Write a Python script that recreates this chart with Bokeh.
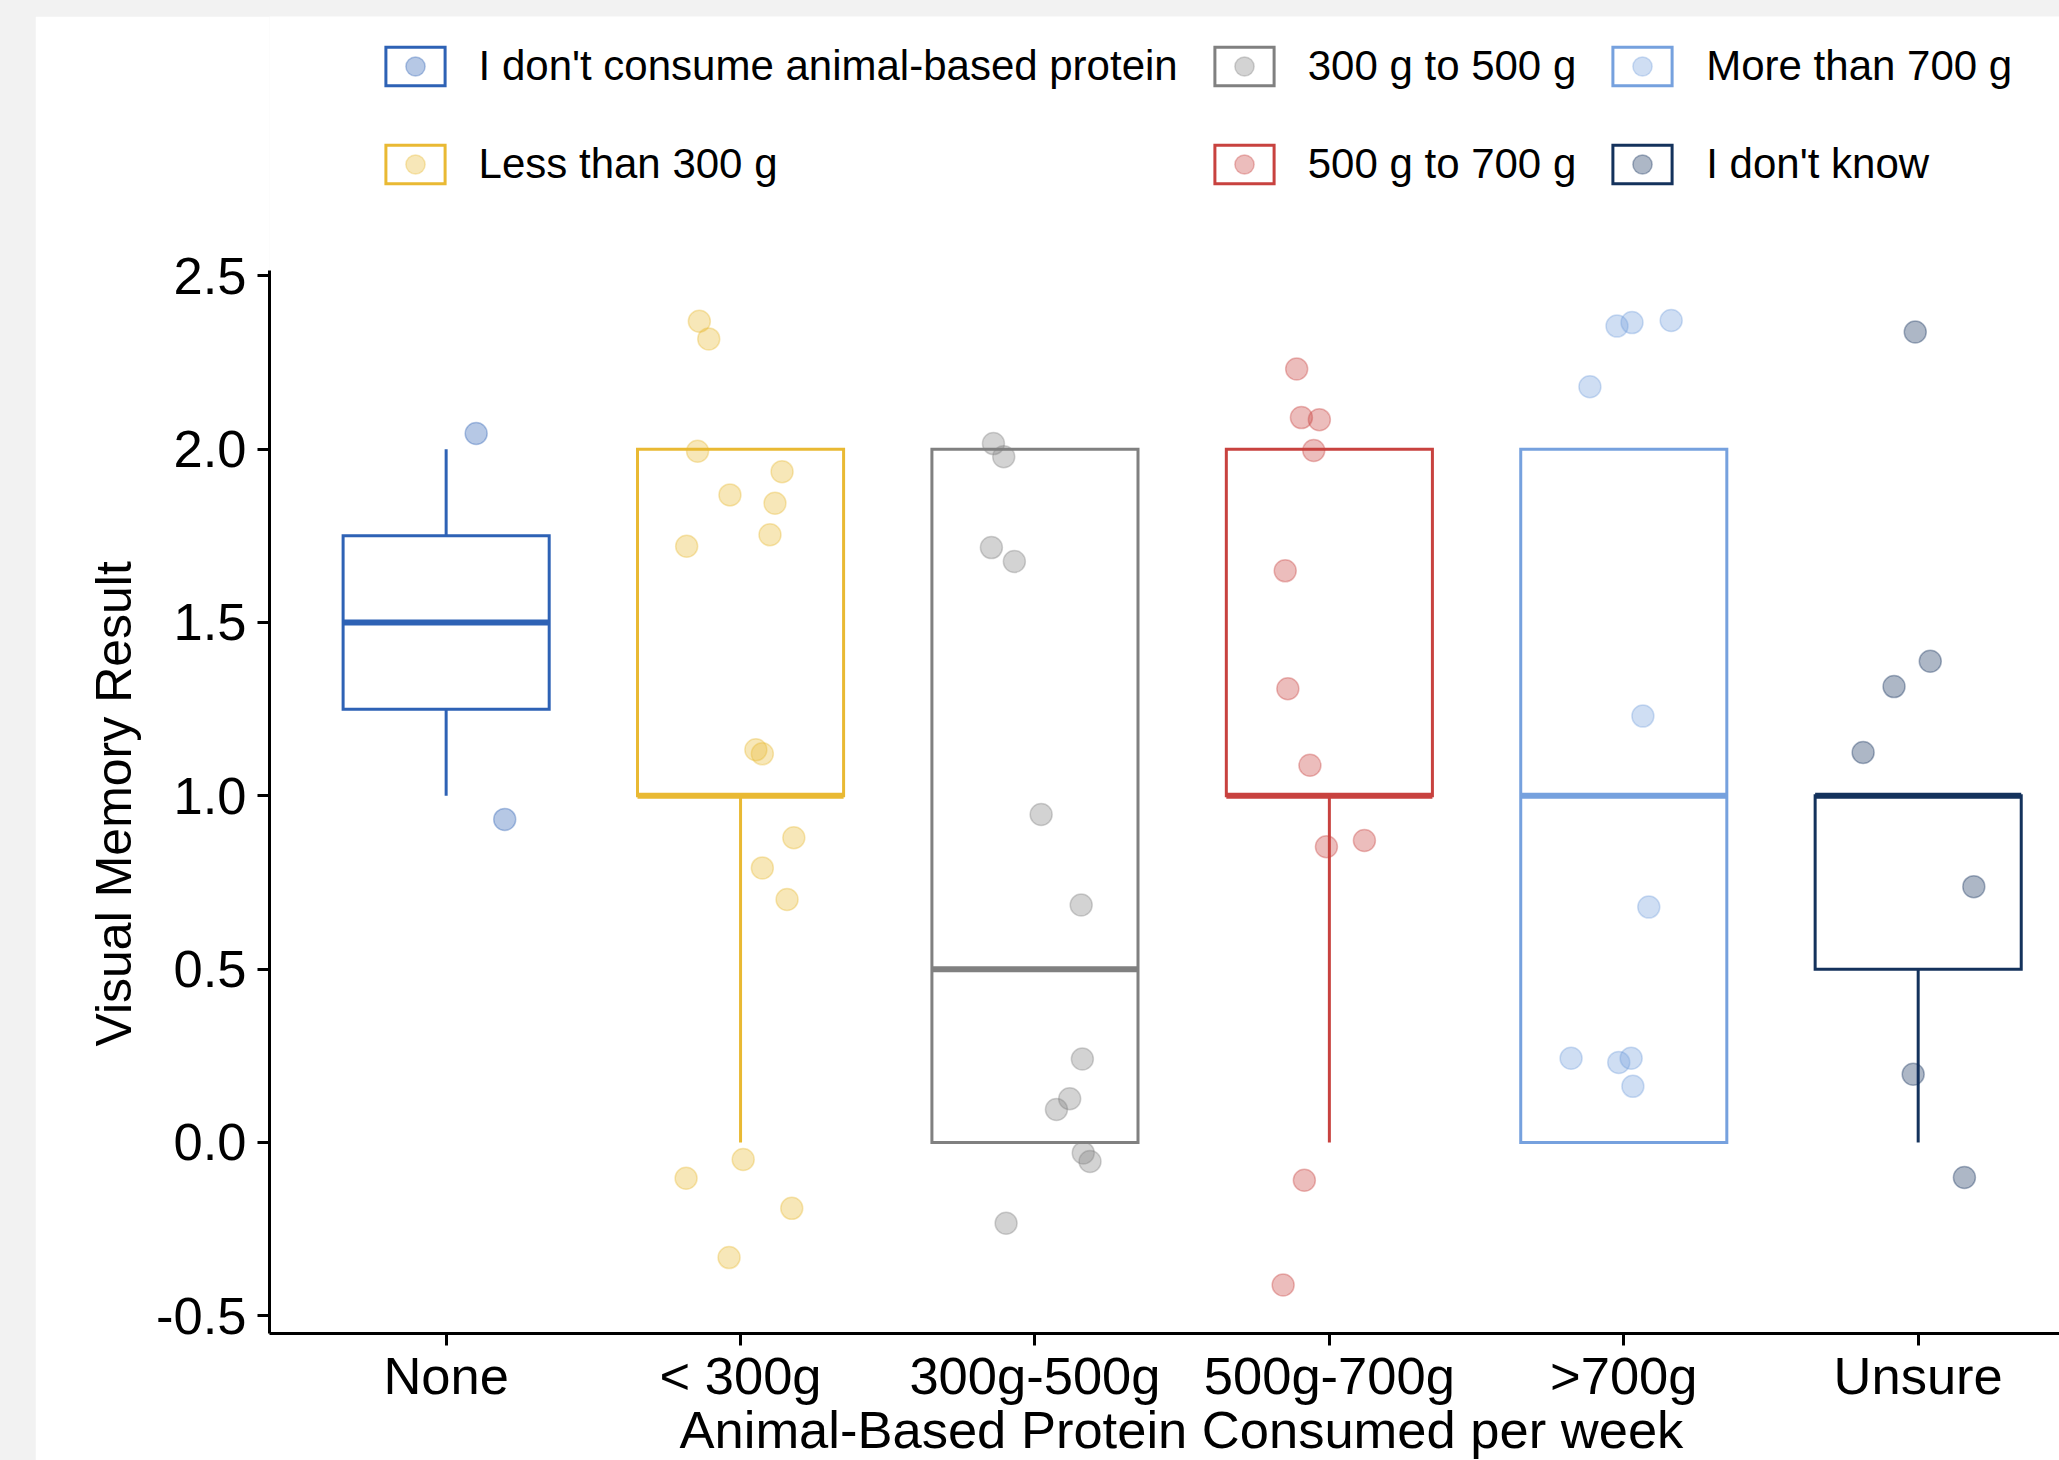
import numpy as np
from bokeh.plotting import figure
from bokeh.models import (Range1d, FixedTicker, NumeralTickFormatter, Legend, LegendItem,
                          ColumnDataSource, Title)
from bokeh.layouts import column
from bokeh.embed import file_html
from bokeh.resources import INLINE

# ---------------- data ----------------
categories = ["None", "< 300g", "300g-500g", "500g-700g", ">700g", "Unsure"]
legend_labels = ["I don't consume animal-based protein", "Less than 300 g", "300 g to 500 g",
                 "500 g to 700 g", "More than 700 g", "I don't know"]
colors = ["#2E62B5", "#E9B933", "#808080", "#C8423F", "#76A1DE", "#14325C"]

box_lower = [1.0, 0.0, 0.0, 0.0, 0.0, 0.0]
box_q1 = [1.25, 1.0, 0.0, 1.0, 0.0, 0.5]
box_median = [1.5, 1.0, 0.5, 1.0, 1.0, 1.0]
box_q3 = [1.75, 2.0, 2.0, 2.0, 2.0, 1.0]
box_upper = [2.0, 2.0, 2.0, 2.0, 2.0, 1.0]

# jittered points: horizontal jitter (category units) and value, per group
none_dx = [0.102, 0.199]
none_y = [2.045, 0.932]
lt300_dx = [-0.140, -0.108, -0.146, 0.141, -0.036, 0.117, -0.183, 0.100, 0.052, 0.074,
            0.181, 0.074, 0.158, 0.009, -0.185, 0.174, -0.039]
lt300_y = [2.369, 2.318, 1.994, 1.935, 1.868, 1.844, 1.720, 1.753, 1.133, 1.121,
           0.879, 0.792, 0.701, -0.049, -0.103, -0.190, -0.332]
g300_500_dx = [-0.141, -0.106, -0.148, -0.070, 0.021, 0.157, 0.161, 0.118, 0.073, 0.164,
               0.187, -0.098]
g300_500_y = [2.016, 1.978, 1.716, 1.676, 0.946, 0.685, 0.241, 0.126, 0.095, -0.030,
              -0.055, -0.233]
g500_700_dx = [-0.111, -0.095, -0.034, -0.053, -0.150, -0.141, -0.066, -0.010, 0.119,
               -0.085, -0.157]
g500_700_y = [2.231, 2.091, 2.085, 1.996, 1.649, 1.309, 1.088, 0.853, 0.871, -0.109, -0.411]
gt700_dx = [-0.023, 0.028, 0.161, -0.115, 0.065, 0.085, -0.179, -0.017, 0.025, 0.031]
gt700_y = [2.355, 2.365, 2.371, 2.180, 1.230, 0.679, 0.243, 0.231, 0.243, 0.162]
unsure_dx = [-0.010, 0.041, -0.082, -0.187, 0.189, -0.017, 0.157]
unsure_y = [2.338, 1.388, 1.315, 1.125, 0.738, 0.197, -0.101]

y_ticks = [-0.5, 0.0, 0.5, 1.0, 1.5, 2.0, 2.5]
y_axis_bounds = (-0.551, 2.515)
x_title = "Animal-Based Protein Consumed per week"
y_title = "Visual Memory Result"

groups_dx = [none_dx, lt300_dx, g300_500_dx, g500_700_dx, gt700_dx, unsure_dx]
groups_y = [none_y, lt300_y, g300_500_y, g500_700_y, gt700_y, unsure_y]

pos = np.arange(1, len(categories) + 1, dtype=float)
box_width = 0.7
FONT = "Liberation Sans"

# ---------------- figure ----------------
# the frame also holds the legend area at the top; the y axis line is limited by bounds
p = figure(width=2024, height=1444, x_range=Range1d(0.4, 6.48), y_range=Range1d(-0.551, 3.248),
           output_backend="svg", toolbar_location=None,
           min_border_left=234, min_border_right=0, min_border_top=0, min_border_bottom=127)
p.xgrid.visible = False
p.ygrid.visible = False
p.outline_line_color = None
p.background_fill_color = "white"
p.border_fill_color = "white"
p.margin = (16, 0, 0, 35)

legend_boxes = []
for i in range(len(categories)):
    c = colors[i]
    src = ColumnDataSource(dict(x=[pos[i]], lower=[box_lower[i]], q1=[box_q1[i]],
                                med=[box_median[i]], q3=[box_q3[i]], upper=[box_upper[i]],
                                x0=[pos[i] - box_width / 2], x1=[pos[i] + box_width / 2]))
    p.segment(x0="x", y0="q3", x1="x", y1="upper", source=src, line_color=c, line_width=3)
    p.segment(x0="x", y0="q1", x1="x", y1="lower", source=src, line_color=c, line_width=3)
    bx = p.vbar(x="x", width=box_width, bottom="q1", top="q3", source=src,
                fill_color="white", line_color=c, line_width=3, line_join="miter")
    p.segment(x0="x0", y0="med", x1="x1", y1="med", source=src, line_color=c, line_width=6)
    legend_boxes.append(bx)

pt_renderers = []
for i in range(len(categories)):
    c = colors[i]
    psrc = ColumnDataSource(dict(x=[pos[i] + d for d in groups_dx[i]], y=groups_y[i]))
    r = p.scatter(x="x", y="y", source=psrc, size=22, fill_color=c, line_color=c,
                  fill_alpha=0.35, line_alpha=0.35, line_width=1.5)
    pt_renderers.append(r)

# axes
p.xaxis.ticker = FixedTicker(ticks=list(pos))
p.xaxis.major_label_overrides = {float(v): c for v, c in zip(pos, categories)}
p.yaxis.ticker = FixedTicker(ticks=y_ticks)
p.yaxis.formatter = NumeralTickFormatter(format="0.0")
p.yaxis.bounds = y_axis_bounds
for ax in (p.xaxis[0], p.yaxis[0]):
    ax.axis_line_width = 3
    ax.axis_line_color = "black"
    ax.major_tick_line_width = 3
    ax.major_tick_line_color = "black"
    ax.major_tick_out = 12
    ax.major_tick_in = 0
    ax.minor_tick_line_color = None
    ax.major_label_text_font = FONT
    ax.major_label_text_font_size = "52.5px"
    ax.major_label_text_color = "black"
p.yaxis.major_label_standoff = 11
p.xaxis.major_label_standoff = 0

# axis titles (placed as in the original, where the panel runs past the right edge)
xtitle = Title(text=x_title, align="left", vertical_align="top", offset=410, standoff=-16,
               text_font=FONT, text_font_size="52.5px", text_font_style="normal",
               text_color="black")
p.add_layout(xtitle, "below")
ytitle = Title(text=y_title, align="left", offset=287, standoff=23,
               text_font=FONT, text_font_size="50px", text_font_style="normal",
               text_color="black")
p.add_layout(ytitle, "left")

# legend (inside the top part of the frame)
items = [LegendItem(label=legend_labels[i], renderers=[legend_boxes[i], pt_renderers[i]])
         for i in range(len(categories))]
legend = Legend(items=items, orientation="vertical", nrows=2, location=(108.6, 1134.9),
                glyph_width=74, glyph_height=48, label_height=69, label_standoff=27,
                spacing=29, padding=0, margin=0,
                label_text_font=FONT, label_text_font_size="42px", label_text_color="black",
                border_line_alpha=0, background_fill_alpha=0)
p.add_layout(legend, "center")

layout = column(p, width=2059, height=1460, styles={"background-color": "#f2f2f2"})

open("out.html", "w").write(file_html(layout, INLINE))
